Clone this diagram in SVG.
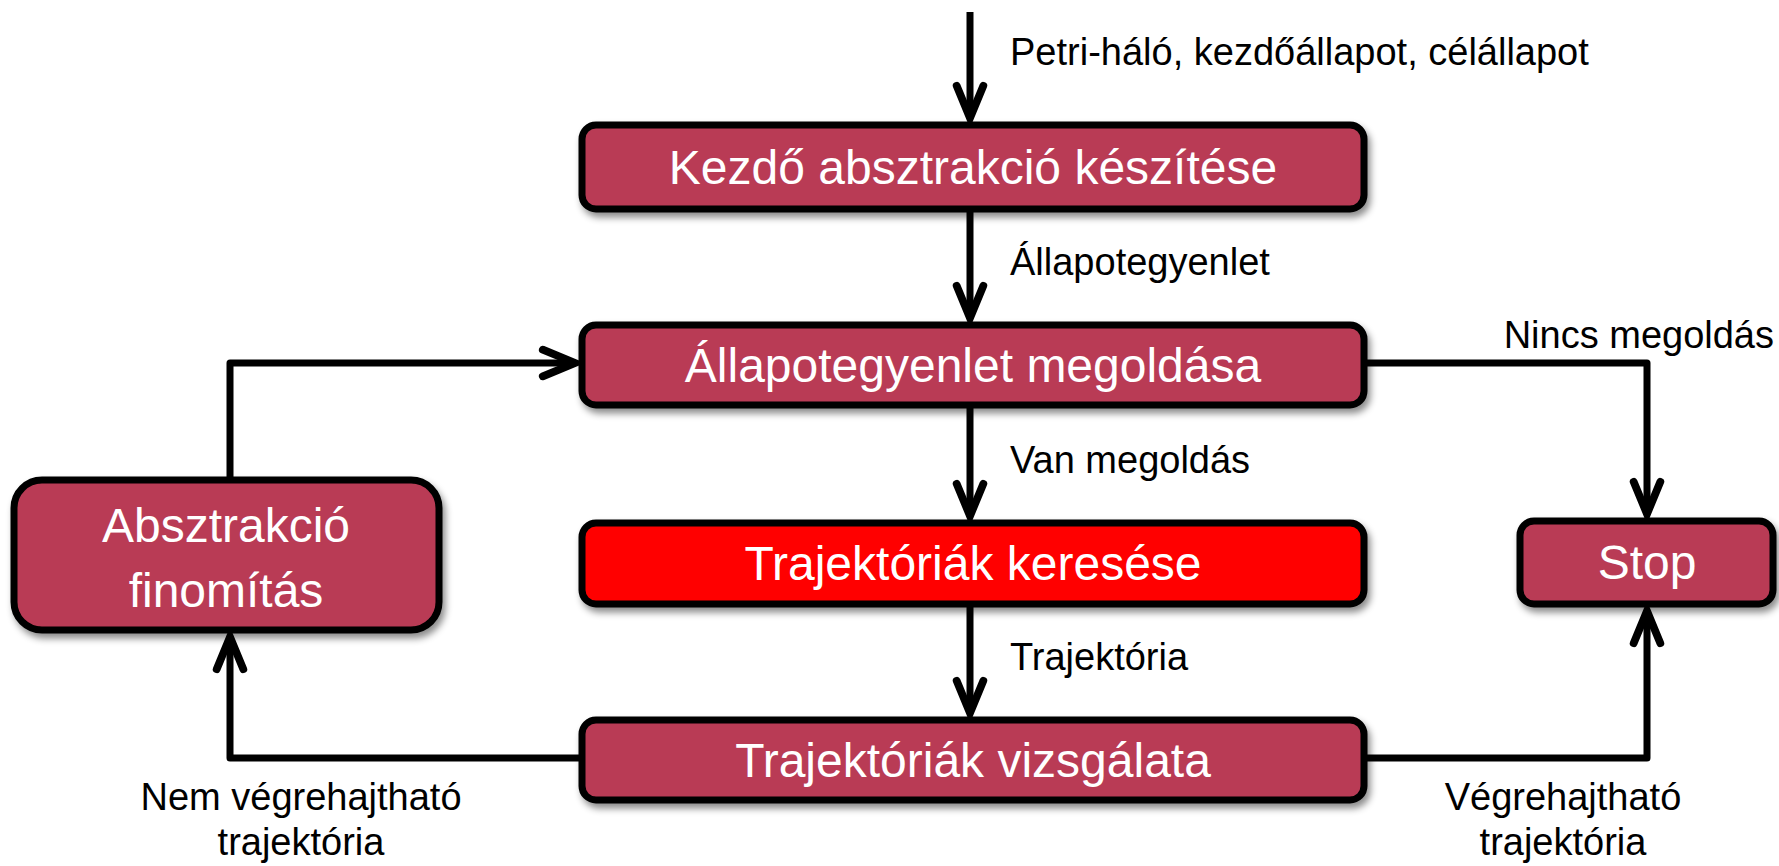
<svg xmlns="http://www.w3.org/2000/svg" width="1779" height="866" viewBox="0 0 1779 866">
  <defs>
    <filter id="shadow" x="-10%" y="-20%" width="125%" height="150%">
      <feDropShadow dx="3" dy="5" stdDeviation="3.5" flood-color="#000" flood-opacity="0.45"/>
    </filter>
    <marker id="arrow" markerUnits="userSpaceOnUse" markerWidth="40" markerHeight="40" viewBox="-32 -16 36 32" refX="0" refY="0" orient="auto" overflow="visible">
      <path d="M-29,-12 L0,0 L-29,12" fill="none" stroke="#000" stroke-width="7" stroke-linecap="round" stroke-linejoin="miter"/>
    </marker>
  </defs>
  <style>
    .node rect { stroke: #000; stroke-width: 7; filter: url(#shadow); }
    .plain rect { fill: #B93A55; }
    .hot rect { fill: #FF0000; }
    .node text { fill: #fff; font-family: "Liberation Sans", Arial, sans-serif; font-size: 48px; text-anchor: middle; }
    .edges path { fill: none; stroke: #000; stroke-width: 7; stroke-linejoin: round; }
    .lbl { fill: #000; font-family: "Liberation Sans", Arial, sans-serif; font-size: 38px; }
    .mid { text-anchor: middle; }
    .end { text-anchor: end; }
  </style>

  <!-- connectors -->
  <g id="edges" class="edges">
    <path d="M970,12 V118" marker-end="url(#arrow)"/>
    <path d="M970,212 V318" marker-end="url(#arrow)"/>
    <path d="M970,408 V516" marker-end="url(#arrow)"/>
    <path d="M970,607 V713" marker-end="url(#arrow)"/>
    <path d="M230,477 V363 H575" marker-end="url(#arrow)"/>
    <path d="M1367,363 H1647 V514" marker-end="url(#arrow)"/>
    <path d="M579,758 H230 V637" marker-end="url(#arrow)"/>
    <path d="M1367,758 H1647 V611" marker-end="url(#arrow)"/>
  </g>

  <!-- connector labels -->
  <g id="labels">
    <text class="lbl" x="1010" y="65">Petri-háló, kezdőállapot, célállapot</text>
    <text class="lbl" x="1010" y="275">Állapotegyenlet</text>
    <text class="lbl" x="1010" y="473">Van megoldás</text>
    <text class="lbl" x="1010" y="670">Trajektória</text>
    <text class="lbl end" x="1774" y="348">Nincs megoldás</text>
    <text class="lbl mid" x="301" y="810">Nem végrehajtható</text>
    <text class="lbl mid" x="301" y="855">trajektória</text>
    <text class="lbl mid" x="1563" y="810">Végrehajtható</text>
    <text class="lbl mid" x="1563" y="855">trajektória</text>
  </g>

  <g id="node-kezdo" class="node plain">
    <rect x="582" y="125" width="782" height="84" rx="14"/>
    <text x="973" y="184">Kezdő absztrakció készítése</text>
  </g>
  <g id="node-allapot" class="node plain">
    <rect x="582" y="325" width="782" height="80" rx="14"/>
    <text x="973" y="382">Állapotegyenlet megoldása</text>
  </g>
  <g id="node-kereses" class="node hot">
    <rect x="582" y="523" width="782" height="81" rx="14"/>
    <text x="973" y="580">Trajektóriák keresése</text>
  </g>
  <g id="node-vizsgalat" class="node plain">
    <rect x="582" y="720" width="782" height="80" rx="14"/>
    <text x="973" y="777">Trajektóriák vizsgálata</text>
  </g>
  <g id="node-finomitas" class="node plain">
    <rect x="14" y="480" width="425" height="150" rx="28"/>
    <text x="226" y="542">Absztrakció</text>
    <text x="226" y="607">finomítás</text>
  </g>
  <g id="node-stop" class="node plain">
    <rect x="1520" y="521" width="253" height="83" rx="14"/>
    <text x="1647" y="579">Stop</text>
  </g>
</svg>
